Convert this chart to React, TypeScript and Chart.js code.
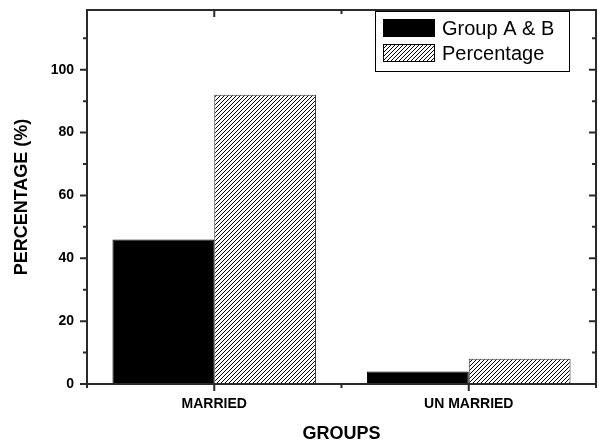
import { useEffect, useRef } from "react";
import { Chart, registerables } from "chart.js";

Chart.register(...registerables);

const categories = ["MARRIED", "UN MARRIED"];
const seriesLabels = ["Group A & B", "Percentage"];
const groupAB = [46, 4];
const percentage = [92, 8];
const yMajorTicks = [0, 20, 40, 60, 80, 100];
const yMinorTicks = [10, 30, 50, 70, 90, 110];
const yMax = 119;

const FONT = "'Liberation Sans', Arial, Helvetica, sans-serif";
const AXIS = "#2a2a2a";

function makeHatch(): CanvasPattern | string {
  const c = document.createElement("canvas");
  c.width = 4;
  c.height = 4;
  const g = c.getContext("2d");
  if (!g) return "#888";
  g.fillStyle = "#fff";
  g.fillRect(0, 0, 4, 4);
  g.strokeStyle = "#000";
  g.lineWidth = 1;
  g.beginPath();
  g.moveTo(0, 4);
  g.lineTo(4, 0);
  g.moveTo(-1, 1);
  g.lineTo(1, -1);
  g.moveTo(3, 5);
  g.lineTo(5, 3);
  g.stroke();
  return g.createPattern(c, "repeat") || "#888";
}

const framePlugin = {
  id: "originFrame",
  afterDraw(chart: any) {
    const { ctx, chartArea: a, scales } = chart;
    const xs = scales.x;
    const ys = scales.y;
    ctx.save();
    ctx.strokeStyle = AXIS;
    ctx.lineWidth = 2;
    ctx.strokeRect(a.left, a.top, a.right - a.left, a.bottom - a.top);
    ctx.beginPath();
    for (const v of yMajorTicks) {
      const py = ys.getPixelForValue(v);
      ctx.moveTo(a.left - 7, py);
      ctx.lineTo(a.left, py);
      ctx.moveTo(a.right, py);
      ctx.lineTo(a.right - 7, py);
    }
    for (const v of yMinorTicks) {
      const py = ys.getPixelForValue(v);
      ctx.moveTo(a.left - 4, py);
      ctx.lineTo(a.left, py);
      ctx.moveTo(a.right, py);
      ctx.lineTo(a.right - 4, py);
    }
    categories.forEach((_, i) => {
      const px = xs.getPixelForValue(i);
      ctx.moveTo(px, a.bottom);
      ctx.lineTo(px, a.bottom + 7);
      ctx.moveTo(px, a.top);
      ctx.lineTo(px, a.top + 7);
    });
    for (let i = 0; i <= categories.length; i++) {
      const px = xs.getPixelForValue(i - 0.5);
      ctx.moveTo(px, a.bottom);
      ctx.lineTo(px, a.bottom + 4);
      ctx.moveTo(px, a.top);
      ctx.lineTo(px, a.top + 4);
    }
    ctx.stroke();

    // legend inside plot
    const lx = 375, ly = 11, lw = 194, lh = 60;
    ctx.fillStyle = "#fff";
    ctx.fillRect(lx, ly, lw, lh);
    ctx.strokeStyle = "#000";
    ctx.lineWidth = 1;
    ctx.strokeRect(lx + 0.5, ly + 0.5, lw, lh);
    chart.data.datasets.forEach((ds: any, i: number) => {
      const sy = 19 + i * 25;
      ctx.fillStyle = ds.backgroundColor;
      ctx.fillRect(383, sy, 52, 18);
      ctx.strokeStyle = "#000";
      ctx.lineWidth = 1;
      ctx.strokeRect(383.5, sy + 0.5, 51, 17);
      ctx.fillStyle = "#000";
      ctx.font = `20px ${FONT}`;
      ctx.textBaseline = "middle";
      ctx.textAlign = "left";
      ctx.fillText(ds.label, 442, sy + 10);
    });
    ctx.restore();
  },
};

export default function App() {
  const ref = useRef<HTMLCanvasElement | null>(null);

  useEffect(() => {
    if (!ref.current) return;
    const hatch = makeHatch();
    const chart = new Chart(ref.current, {
      type: "bar",
      data: {
        labels: categories,
        datasets: [
          {
            label: seriesLabels[0],
            data: groupAB,
            backgroundColor: "#000",
            borderColor: "#000",
            borderWidth: 1,
            categoryPercentage: 0.8,
            barPercentage: 1.0,
          },
          {
            label: seriesLabels[1],
            data: percentage,
            backgroundColor: hatch as any,
            borderColor: "#333",
            borderWidth: 1,
            categoryPercentage: 0.8,
            barPercentage: 1.0,
          },
        ],
      },
      options: {
        responsive: false,
        animation: false,
        layout: { padding: { left: 0, right: 3, top: 10, bottom: 0 } },
        plugins: {
          legend: { display: false },
          tooltip: { enabled: false },
        },
        scales: {
          x: {
            grid: { display: false, drawTicks: false },
            border: { display: false },
            ticks: {
              padding: 12,
              color: "#000",
              font: { family: FONT, size: 14, weight: "bold" },
            },
            title: {
              display: true,
              text: "GROUPS",
              color: "#000",
              font: { family: FONT, size: 18, weight: "bold" },
              padding: { top: 0, bottom: -4 },
            },
            afterFit: (s: any) => {
              s.height = 57;
              s.paddingLeft = 0;
              s.paddingRight = 0;
            },
          },
          y: {
            min: 0,
            max: yMax,
            afterBuildTicks: (s: any) => {
              s.ticks = yMajorTicks.map((v) => ({ value: v }));
            },
            grid: { display: false, drawTicks: false },
            border: { display: false },
            ticks: {
              padding: 13,
              color: "#000",
              font: { family: FONT, size: 14, weight: "bold" },
            },
            title: {
              display: true,
              text: "PERCENTAGE (%)",
              color: "#000",
              font: { family: FONT, size: 18, weight: "bold" },
              padding: { top: 11, bottom: 0 },
            },
            afterFit: (s: any) => {
              s.width = 87;
              s.paddingTop = 0;
              s.paddingBottom = 0;
            },
          },
        },
      } as any,
      plugins: [framePlugin],
    });
    return () => chart.destroy();
  }, []);

  return (
    <div style={{ position: "absolute", left: 0, top: 0, width: 599, height: 441, background: "#fff" }}>
      <canvas ref={ref} width={599} height={441} style={{ display: "block" }} />
    </div>
  );
}
